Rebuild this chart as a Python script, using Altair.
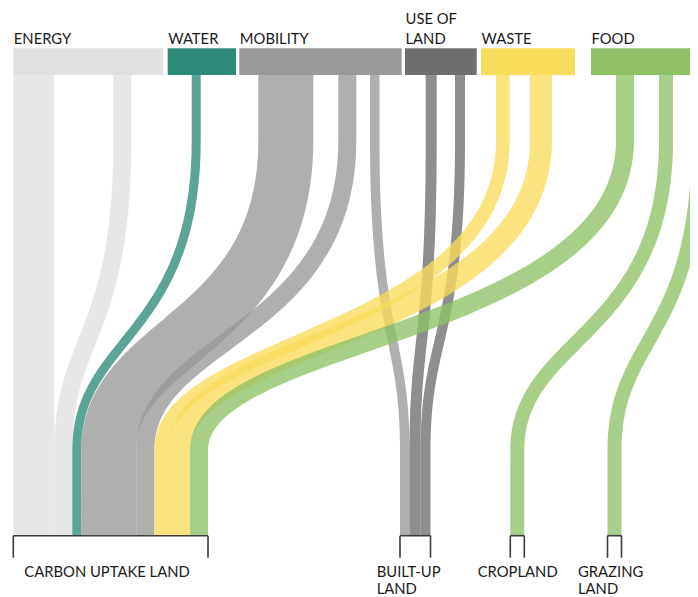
import altair as alt
import numpy as np
import pandas as pd

# ---------------- data ----------------
sources = ["ENERGY", "WATER", "MOBILITY", "USE OF LAND", "WASTE", "FOOD"]
source_labels = ["ENERGY", "WATER", "MOBILITY", "USE OF\nLAND", "WASTE", "FOOD"]
source_colors = ["#e0e0e0", "#2e8b7a", "#999999", "#6e6e6e", "#f9dc5c", "#8fc266"]

targets = ["CARBON UPTAKE LAND", "BUILT-UP LAND", "CROPLAND", "GRAZING LAND"]
target_labels = ["CARBON UPTAKE LAND", "BUILT-UP\nLAND", "CROPLAND", "GRAZING\nLAND"]

flow_source = ["ENERGY", "ENERGY", "WATER", "MOBILITY", "MOBILITY", "MOBILITY",
               "USE OF LAND", "USE OF LAND", "WASTE", "WASTE", "FOOD", "FOOD", "FOOD"]
flow_target = ["CARBON UPTAKE LAND", "CARBON UPTAKE LAND", "CARBON UPTAKE LAND",
               "CARBON UPTAKE LAND", "CARBON UPTAKE LAND", "BUILT-UP LAND",
               "BUILT-UP LAND", "BUILT-UP LAND", "CARBON UPTAKE LAND",
               "CARBON UPTAKE LAND", "CARBON UPTAKE LAND", "CROPLAND", "GRAZING LAND"]
flow_value = [41, 18, 9, 55, 18, 9.5, 11, 10, 13.7, 22, 18, 14, 14]

# ---------------- layout (pixel-like units) ----------------
source_x0 = [13.3, 167.7, 239.3, 405.0, 481.0, 591.0]
source_x1 = [163.3, 236.0, 401.7, 476.7, 575.0, 720.0]
flow_x0 = [13.3, 113.3, 191.7, 258.3, 338.3, 370.0, 425.7, 455.0, 496.0, 530.0, 616.0, 659.0, 691.7]
target_x0 = [13.3, 400.0, 510.3, 607.5]
target_label_dx = [11.0, -23.3, -32.6, -29.5]

Y_BAR_TOP, Y_BAR_BOT = 48.3, 75.0
Y_BEND_TOP, Y_BEND_CTRL, Y_BEND_BOT = 140.0, 337.0, 450.0
Y_TARGET, Y_TICK = 535.7, 557.7
LINE_H = 19.6
LINE_H_BOTTOM = 17.5
PX_PER_UNIT = 1.0

# ---------------- build tables ----------------
color_of = dict(zip(sources, source_colors))
cursor = dict(zip(targets, target_x0))
t = np.linspace(0, 1, 80)
rows = []
for k, (s, tg, v, xs0) in enumerate(zip(flow_source, flow_target, flow_value, flow_x0)):
    w = v * PX_PER_UNIT
    xs = xs0 + w / 2
    xt = cursor[tg] + w / 2
    cursor[tg] += w
    pts = [(xs, Y_BAR_BOT)]
    fx = 3 * t ** 2 - 2 * t ** 3
    by = ((1 - t) ** 3 * Y_BEND_TOP + 3 * (1 - t) ** 2 * t * Y_BEND_CTRL
          + 3 * (1 - t) * t ** 2 * Y_BEND_CTRL + t ** 3 * Y_BEND_BOT)
    pts += list(zip(xs + (xt - xs) * fx, by))
    pts.append((xt, Y_TARGET))
    for i, (px, py) in enumerate(pts):
        rows.append({"fid": k, "i": i, "x": px, "y": py, "w": w, "color": color_of[s]})
flows = pd.DataFrame(rows)

# target extents derived from stacked values
tgt_x1 = [cursor[tg] for tg in targets]
brackets = pd.DataFrame({"x": target_x0, "x2": tgt_x1,
                         "y": [Y_TARGET] * 4, "y2": [Y_TICK] * 4,
                         "lx": [a + d for a, d in zip(target_x0, target_label_dx)],
                         "label": target_labels})

bars = pd.DataFrame({"x": source_x0, "x2": source_x1, "y": [Y_BAR_TOP] * 6,
                     "y2": [Y_BAR_BOT] * 6, "color": source_colors,
                     "label": source_labels,
                     "ly": [Y_BAR_TOP - 4.5 - (lab.count("\n")) * LINE_H for lab in source_labels],
                     "lx": [x + 0.5 for x in source_x0]})

W, H = 682, 589
xs_ = alt.Scale(domain=[8, 8 + W])
ys_ = alt.Scale(domain=[8, 8 + H], reverse=True)
FONT = "Lato"
FS = 14.8

flow_layer = alt.Chart(flows).mark_line(opacity=0.78, strokeCap="butt", strokeJoin="round", clip=True).encode(
    x=alt.X("x:Q", scale=xs_, axis=None),
    y=alt.Y("y:Q", scale=ys_, axis=None),
    detail="fid:N",
    order="i:Q",
    color=alt.Color("color:N", scale=None),
    strokeWidth=alt.StrokeWidth("w:Q", scale=None),
)

bar_layer = alt.Chart(bars).mark_rect(clip=True).encode(
    x=alt.X("x:Q", scale=xs_, axis=None), x2="x2:Q",
    y=alt.Y("y:Q", scale=ys_, axis=None), y2="y2:Q",
    color=alt.Color("color:N", scale=None),
)

src_text = alt.Chart(bars).mark_text(align="left", baseline="alphabetic", font=FONT, fontSize=FS,
                                     color="#1a1a1a", lineBreak="\n", lineHeight=LINE_H).encode(
    x=alt.X("lx:Q", scale=xs_, axis=None),
    y=alt.Y("ly:Q", scale=ys_, axis=None),
    text="label:N",
)

rule_style = dict(color="#3c3c3c", strokeWidth=1.6)
h_rule = alt.Chart(brackets).mark_rule(**rule_style).encode(
    x=alt.X("x:Q", scale=xs_, axis=None), x2="x2:Q",
    y=alt.Y("y:Q", scale=ys_, axis=None),
)
l_rule = alt.Chart(brackets).mark_rule(**rule_style).encode(
    x=alt.X("x:Q", scale=xs_, axis=None),
    y=alt.Y("y:Q", scale=ys_, axis=None), y2="y2:Q",
)
r_rule = alt.Chart(brackets).mark_rule(**rule_style).encode(
    x=alt.X("x2:Q", scale=xs_, axis=None),
    y=alt.Y("y:Q", scale=ys_, axis=None), y2="y2:Q",
)
tgt_text = alt.Chart(brackets).mark_text(align="left", baseline="alphabetic", font=FONT, fontSize=FS,
                                         color="#1a1a1a", lineBreak="\n", lineHeight=LINE_H_BOTTOM, dy=19.0).encode(
    x=alt.X("lx:Q", scale=xs_, axis=None),
    y=alt.Y("y2:Q", scale=ys_, axis=None),
    text="label:N",
)

chart = alt.layer(flow_layer, bar_layer, src_text, h_rule, l_rule, r_rule, tgt_text).properties(
    width=W, height=H, padding=0, autosize=alt.AutoSizeParams(type="none")
).configure_view(stroke=None)

chart.save("out.html", embed_options={"renderer": "svg", "actions": False})
